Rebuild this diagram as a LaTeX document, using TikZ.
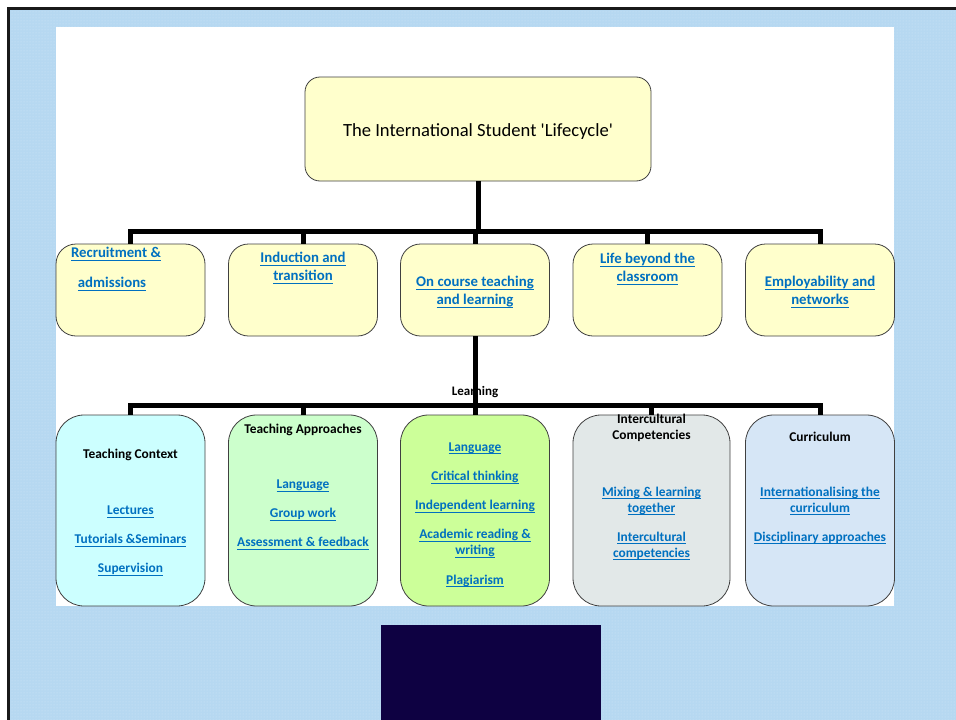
\documentclass[tikz,border=0pt]{standalone}
\usepackage{fontspec}
\setmainfont{Carlito}
\usetikzlibrary{patterns}
\definecolor{ylw}{HTML}{FFFFCC}
\definecolor{tcfill}{HTML}{CCFFFF}
\definecolor{tafill}{HTML}{CCFFCC}
\definecolor{lnfill}{HTML}{CCFF99}
\definecolor{icfill}{HTML}{E2E8E8}
\definecolor{cufill}{HTML}{D6E6F6}
\definecolor{linkblue}{HTML}{0070C0}
\definecolor{bgblue}{RGB}{182,216,241}
\definecolor{bgdot}{RGB}{210,232,249}
\definecolor{navy}{RGB}{14,1,66}
\newcommand\lnk[1]{\setbox0\hbox{#1}\leavevmode\rlap{\vrule height -1.8pt depth 2.8pt width \wd0}\box0}
\tikzset{
  box/.style={draw=black!75, line width=0.8pt, rounded corners=#1, inner sep=0pt},
  rowtwo/.style={box=20pt, fill=ylw, minimum width=149pt, minimum height=92pt},
  rowthree/.style={box=28pt, minimum width=149pt, minimum height=191pt},
  conn/.style={draw=black, line width=5pt},
  linktwo/.style={font=\bfseries\fontsize{14.8}{18}\selectfont, text=linkblue, align=center, inner sep=0pt},
  linkthree/.style={font=\bfseries\fontsize{13.4}{16}\selectfont, text=linkblue, align=center, inner sep=0pt},
  head/.style={font=\bfseries\fontsize{13.4}{16.5}\selectfont, text=black, align=center, inner sep=0pt},
}
\begin{document}
\begin{tikzpicture}[x=1pt, y=-1pt]
\useasboundingbox (0,0) rectangle (956,720);
% background
\fill[bgblue] (10,10) rectangle (956,720);
\fill[pattern=dots, pattern color=bgdot] (10,10) rectangle (956,720);
\fill[white] (56,27) rectangle (894,606);
\fill[navy] (381,625) rectangle (601,720);
\draw[black!90, line width=2.7pt] (8.7,720) -- (8.7,8.7) -- (956,8.7);

% top node
\node[box=15pt, fill=ylw, minimum width=346pt, minimum height=104pt,
      font=\fontsize{18.6}{22}\selectfont] (top) at (478,129) {};
\node[font=\fontsize{18.6}{22}\selectfont, inner sep=0pt] (topt) at (478,131.5) {The International Student \textquotesingle Lifecycle\textquotesingle};

% row two
\node[rowtwo] (rec) at (130.5,290) {};
\node[rowtwo] (ind) at (303,290) {};
\node[rowtwo] (onc) at (475,290) {};
\node[rowtwo] (lif) at (647.5,290) {};
\node[rowtwo] (emp) at (820,290) {};

\node[linktwo] (rect1) at (116,254) {\lnk{Recruitment \&}};
\node[linktwo] (rect2) at (112,284) {\lnk{admissions}};
\node[linktwo] (indt) at (303,268) {\lnk{Induction and}\\\lnk{transition}};
\node[linktwo] (onct) at (475,292) {\lnk{On course teaching}\\\lnk{and learning}};
\node[linktwo] (lift) at (647.5,269) {\lnk{Life beyond the}\\\lnk{classroom}};
\node[linktwo] (empt) at (820,292) {\lnk{Employability and}\\\lnk{networks}};

% row three
\node[rowthree, fill=tcfill] (tc) at (130.5,510.5) {};
\node[rowthree, fill=tafill] (ta) at (303,510.5) {};
\node[rowthree, fill=lnfill] (ln) at (475,510.5) {};
\node[rowthree, fill=icfill, minimum width=157pt] (ic) at (651.5,510.5) {};
\node[rowthree, fill=cufill] (cu) at (820,510.5) {};

\node[head] (tch) at (130.5,455) {Teaching Context};
\node[linkthree] (tcl) at (130.5,541) {\lnk{Lectures}\\[13pt]\lnk{Tutorials \&Seminars}\\[13pt]\lnk{Supervision}};
\node[head] (tah) at (303,430) {Teaching Approaches};
\node[linkthree] (tal) at (303,515) {\lnk{Language}\\[13pt]\lnk{Group work}\\[13pt]\lnk{Assessment \& feedback}};
\node[linkthree] (lnl) at (475,515) {\lnk{Language}\\[13.5pt]\lnk{Critical thinking}\\[13pt]\lnk{Independent learning}\\[13pt]\lnk{Academic reading \&}\\\lnk{writing}\\[13.5pt]\lnk{Plagiarism}};
\node[head] (ich) at (651.5,428) {Intercultural\\Competencies};
\node[linkthree] (icl) at (651.5,523.5) {\lnk{Mixing \& learning}\\\lnk{together}\\[13pt]\lnk{Intercultural}\\\lnk{competencies}};
\node[head] (cuh) at (820,437) {Curriculum};
\node[linkthree] (cul) at (820,515.5) {\lnk{Internationalising the}\\\lnk{curriculum}\\[13pt]\lnk{Disciplinary approaches}};

% label under the connector
\node[head, font=\bfseries\fontsize{13}{15}\selectfont] (lrn) at (475,392.5) {Learning};

% connectors
\coordinate (bar1) at (478,231);
\coordinate (bar2) at (475,405);
\draw[conn] (top.south) -- (top.south |- bar1);
\draw[conn] (rec.north) -- (rec.north |- bar1) -- (emp.north |- bar1) -- (emp.north);
\draw[conn] (ind.north) -- (ind.north |- bar1);
\draw[conn] (onc.north) -- (onc.north |- bar1);
\draw[conn] (lif.north) -- (lif.north |- bar1);

\draw[conn] (onc.south) -- (onc.south |- bar2);
\draw[conn] (tc.north) -- (tc.north |- bar2) -- (cu.north |- bar2) -- (cu.north);
\draw[conn] (ta.north) -- (ta.north |- bar2);
\draw[conn] (ln.north) -- (ln.north |- bar2);
\draw[conn] (ic.north) -- (ic.north |- bar2);
\end{tikzpicture}
\end{document}
